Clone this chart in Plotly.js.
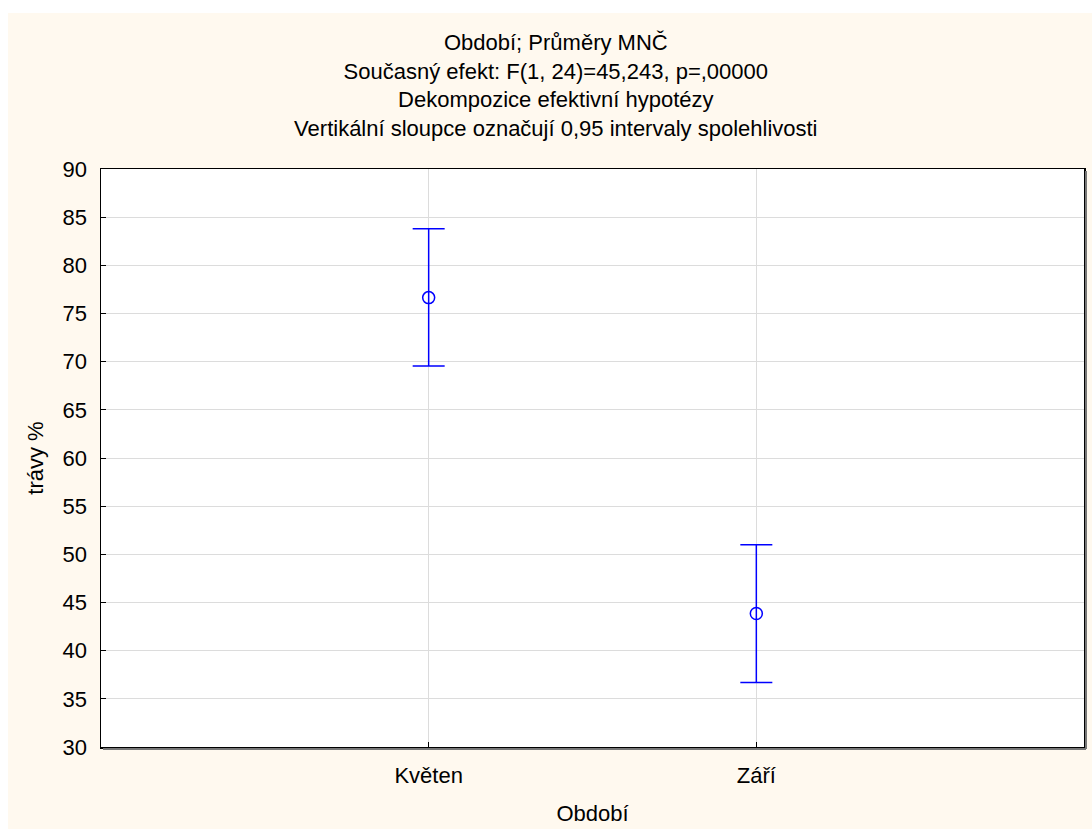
<!DOCTYPE html>
<html>
<head>
<meta charset="utf-8">
<script src="https://cdn.plot.ly/plotly-3.0.1.min.js"></script>
<style>html,body{margin:0;padding:0;background:#fff;}#chart{width:1092px;height:829px;}</style>
</head>
<body>
<div id="chart"></div>
<script>
const categories = ["Květen", "Září"];
const means = [76.65, 43.85];
const upperCI = [83.8, 51.0];
const lowerCI = [69.55, 36.7];
const yTicks = [30, 35, 40, 45, 50, 55, 60, 65, 70, 75, 80, 85, 90];

const titleLines = [
  "Období; Průměry MNČ",
  "Současný efekt: F(1, 24)=45,243, p=,00000",
  "Dekompozice efektivní hypotézy",
  "Vertikální sloupce označují 0,95 intervaly spolehlivosti"
];

const FONT = "Liberation Sans, Arial, sans-serif";
const FS = 22;
const cream = "#FFF9EF";

const trace = {
  type: "scatter",
  mode: "markers",
  x: categories,
  y: means,
  marker: {symbol: "circle-open", size: 12, color: "#0000FF", line: {width: 1.5, color: "#0000FF"}},
  error_y: {
    type: "data",
    symmetric: false,
    array: means.map((m, i) => upperCI[i] - m),
    arrayminus: means.map((m, i) => m - lowerCI[i]),
    color: "#0000FF",
    thickness: 1.5,
    width: 16
  },
  hoverinfo: "x+y",
  showlegend: false
};

const L = 101, R = 8, T = 169, B = 82;
const W = 1092, H = 829;
const pw = W - L - R, ph = H - T - B;
function px2x(p) { return (p - L) / pw; }
function px2y(p) { return (H - B - p) / ph; }

const layout = {
  width: W, height: H,
  margin: {l: L, r: R, t: T, b: B},
  paper_bgcolor: cream,
  plot_bgcolor: "#ffffff",
  font: {family: FONT, size: FS, color: "#000"},
  title: {
    text: titleLines.join("<br>"),
    x: 0.509, xanchor: "center",
    y: 1 - 50 / H, yanchor: "top",
    font: {family: FONT, size: FS, color: "#000"}
  },
  xaxis: {
    type: "category",
    range: [-1, 2],
    showgrid: true, gridcolor: "#dcdcdc", gridwidth: 1,
    showline: true, linecolor: "#000", linewidth: 1.5, mirror: true,
    ticks: "inside", ticklen: 5, tickcolor: "#000",
    ticklabelstandoff: 8,
    tickfont: {family: FONT, size: FS, color: "#000"},
    title: {text: "Období", font: {family: FONT, size: FS, color: "#000"}, standoff: 18},
    zeroline: false, fixedrange: true
  },
  yaxis: {
    range: [30, 90],
    tickvals: yTicks,
    ticktext: yTicks.map(String),
    showgrid: true, gridcolor: "#dcdcdc", gridwidth: 1,
    showline: true, linecolor: "#000", linewidth: 1.5, mirror: true,
    ticks: "inside", ticklen: 5, tickcolor: "#000",
    ticklabelstandoff: 8,
    tickfont: {family: FONT, size: FS, color: "#000"},
    title: {text: "trávy %", font: {family: FONT, size: FS, color: "#000"}, standoff: 13},
    zeroline: false, fixedrange: true
  },
  shapes: [
    {type: "rect", xref: "paper", yref: "paper", x0: px2x(-2), x1: px2x(8), y0: px2y(H + 2), y1: px2y(-2), fillcolor: "#ffffff", line: {width: 0}, layer: "below"},
    {type: "rect", xref: "paper", yref: "paper", x0: px2x(-2), x1: px2x(W + 2), y0: px2y(13), y1: px2y(-2), fillcolor: "#ffffff", line: {width: 0}, layer: "below"},
    {type: "line", xref: "paper", yref: "paper", x0: px2x(1086), x1: px2x(1086), y0: px2y(749), y1: px2y(171), line: {color: "#777", width: 2}},
    {type: "line", xref: "paper", yref: "paper", x0: px2x(103), x1: px2x(1086), y0: px2y(749), y1: px2y(749), line: {color: "#777", width: 2}}
  ]
};

Plotly.newPlot("chart", [trace], layout, {displayModeBar: false, staticPlot: true});
</script>
</body>
</html>
